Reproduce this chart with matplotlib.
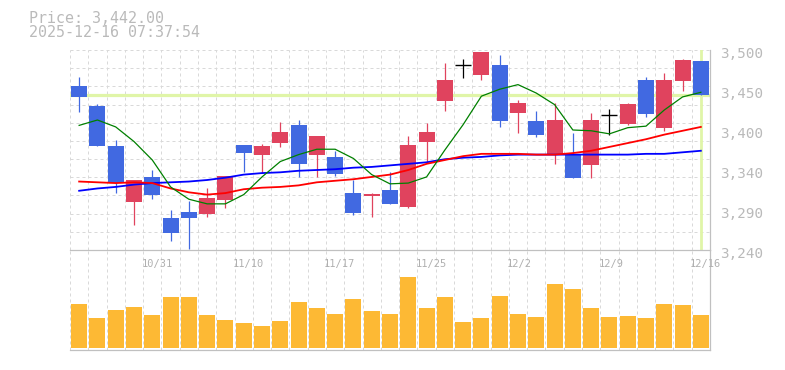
import matplotlib
matplotlib.use('Agg')
import matplotlib.pyplot as plt
import matplotlib.transforms as mtransforms

# daily candles
dates = ['10/31', '11/10', '11/17', '11/25', '12/2', '12/9', '12/16']
date_idx = [4, 9, 14, 19, 24, 29, 34]

opens = [3453, 3427, 3375, 3302, 3335, 3282, 3289, 3287, 3305, 3376,
         3363, 3379, 3402, 3363, 3361, 3314, 3310, 3318, 3296, 3381,
         3434, 3480, 3467, 3480, 3418, 3408, 3365, 3365, 3350, 3415,
         3404, 3461, 3399, 3460, 3486]
highs = [3465, 3430, 3383, 3331, 3344, 3292, 3304, 3321, 3336, 3376,
         3378, 3406, 3409, 3388, 3369, 3331, 3314, 3341, 3388, 3405,
         3483, 3488, 3497, 3493, 3435, 3421, 3431, 3392, 3418, 3423,
         3431, 3465, 3470, 3488, 3486]
lows = [3419, 3375, 3314, 3272, 3306, 3252, 3241, 3283, 3295, 3341,
        3340, 3374, 3335, 3335, 3336, 3286, 3283, 3300, 3294, 3353,
        3421, 3463, 3461, 3400, 3392, 3387, 3352, 3333, 3334, 3390,
        3403, 3413, 3395, 3447, 3442]
closes = [3439, 3375, 3327, 3331, 3311, 3262, 3281, 3308, 3336, 3366,
          3375, 3393, 3352, 3388, 3339, 3288, 3313, 3300, 3376, 3393,
          3461, 3480, 3497, 3408, 3431, 3389, 3409, 3333, 3409, 3415,
          3430, 3417, 3461, 3487, 3442]

ma_short = [3402, 3409, 3400, 3381, 3357, 3322, 3306, 3300, 3300, 3312,
            3335, 3355, 3364, 3371, 3371, 3359, 3338, 3326, 3327, 3335,
            3370, 3403, 3440, 3449, 3455, 3444, 3429, 3396, 3395, 3391,
            3399, 3401, 3422, 3439, 3445]
ma_mid = [3329, 3328, 3327, 3328, 3327, 3320, 3315, 3312, 3314, 3319,
          3321, 3322, 3324, 3328, 3330, 3332, 3335, 3338, 3344, 3352,
          3357, 3362, 3365, 3365, 3365, 3364, 3364, 3366, 3369, 3374,
          3379, 3384, 3390, 3395, 3400]
ma_long = [3317, 3320, 3322, 3325, 3327, 3328, 3329, 3331, 3334, 3338,
           3340, 3341, 3343, 3344, 3345, 3347, 3348, 3350, 3352, 3354,
           3358, 3360, 3361, 3363, 3364, 3364, 3364, 3364, 3364, 3364,
           3364, 3365, 3365, 3367, 3369]

volumes = [132000, 90000, 114000, 123000, 99000, 153000, 153000, 99000, 84000, 75000,
           66000, 81000, 138000, 120000, 102000, 147000, 111000, 102000, 213000, 120000,
           153000, 78000, 90000, 156000, 102000, 93000, 192000, 177000, 120000, 93000,
           96000, 90000, 132000, 129000, 99000]

last_price = 3442.00
yticks = [3500, 3448, 3396, 3344, 3292, 3240]
ytick_labels = ['3,500', '3,450', '3,400', '3,340', '3,290', '3,240']

UP = '#e0435e'
DOWN = '#4169e1'
GRID = '#d9d9d9'
FRAME = '#c0c0c0'
LABEL = '#bababa'
MONO = 'DejaVu Sans Mono'

W, H = 785, 370
fig = plt.figure(figsize=(W / 100, H / 100), dpi=100)
axv = fig.add_axes([70 / W, (H - 350) / H, 640 / W, 100 / H])
ax = fig.add_axes([70 / W, (H - 250) / H, 640 / W, 200 / H])
ax.patch.set_visible(False)
axv.patch.set_visible(False)

n = len(closes)
xs = [i + 0.5 for i in range(n)]

for a in (ax, axv):
    a.set_xlim(0, n)
    for s in ('top', 'left'):
        a.spines[s].set_visible(False)
    for s in ('right', 'bottom'):
        a.spines[s].set_color(FRAME)
        a.spines[s].set_linewidth(0.9)
    a.set_xticks([])
    a.set_yticks([])

for i in range(n + 1):
    axv.axvline(i, color=GRID, lw=0.72, ls=(0, (3, 3)), zorder=0)
    ax.axvline(i, color=GRID, lw=0.72, ls=(0, (3, 3)), zorder=0)

ax.set_ylim(3240, 3500)
nh = 11
for k in range(nh + 1):
    ax.axhline(3240 + k * (3500 - 3240) / nh, color=GRID, lw=0.72, ls=(0, (3, 3)), zorder=0)

# last price marker lines
ax.axhline(last_price, color='#e0f5a8', lw=2.3, zorder=1)
ax.axvline(xs[-1], color='#e0f5a8', lw=2.0, zorder=1)

# candles
for x, o, h, l, c in zip(xs, opens, highs, lows, closes):
    if c > o:
        col = UP
    elif c < o:
        col = DOWN
    else:
        col = 'black'
    ax.vlines(x, l, h, color=col, lw=0.9, zorder=2)
    if c == o:
        ax.hlines(c, x - 0.44, x + 0.44, color='black', lw=1.0, zorder=3)
    else:
        ax.bar(x, c - o, bottom=o, width=0.875, color=col, lw=0, zorder=3)

# moving averages
ax.plot(xs, ma_long, color='#0000ff', lw=1.3, zorder=4)
ax.plot(xs, ma_mid, color='#ff0000', lw=1.3, zorder=4)
ax.plot(xs, ma_short, color='#008000', lw=0.9, zorder=5)

# right price labels
lab_tr = mtransforms.offset_copy(ax.get_yaxis_transform(), fig=fig, x=10, y=-7.5, units='dots')
for v, t in zip(yticks, ytick_labels):
    ax.text(1.0, v, t, transform=lab_tr, ha='left', va='baseline',
            family=MONO, fontsize=10.3, color=LABEL, clip_on=False)

# volume panel
axv.set_ylim(-6000, 294000)
axv.bar(xs, volumes, width=0.875, color='#fdb934', lw=0, zorder=2)

xl_tr = axv.get_xaxis_transform()
for i, d in zip(date_idx, dates):
    axv.text(i - 0.1, 0.833, d, transform=xl_tr, ha='left', va='baseline',
             family=MONO, fontsize=7.5, color='#b0b0b0')

fig.text(29 / W, 1 - 23.3 / H, 'Price: {:,.2f}'.format(last_price), family=MONO,
         fontsize=10.8, color=LABEL, va='baseline', ha='left')
fig.text(29 / W, 1 - 37.3 / H, '2025-12-16 07:37:54', family=MONO,
         fontsize=10.8, color=LABEL, va='baseline', ha='left')

fig.savefig('out.png', dpi=100)
